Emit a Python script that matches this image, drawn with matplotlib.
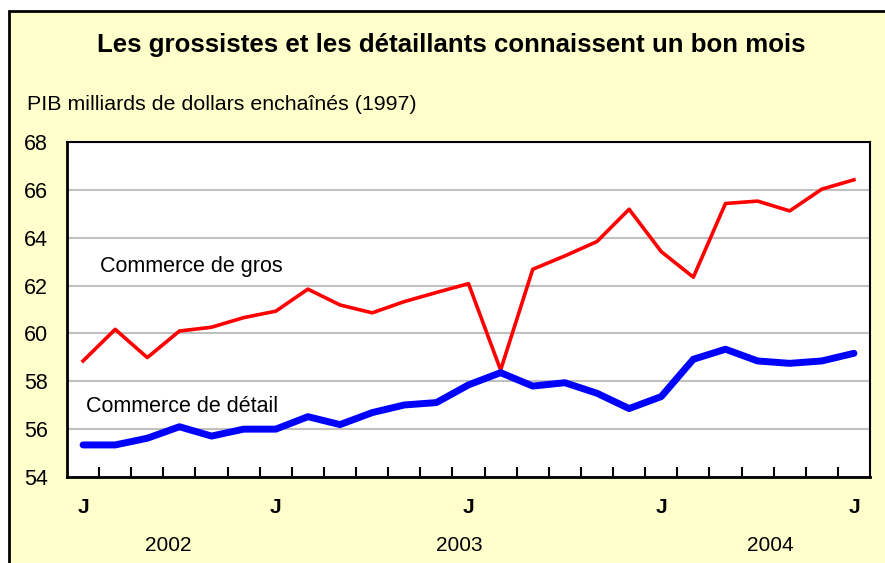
import matplotlib
matplotlib.use('Agg')
import matplotlib.pyplot as plt
from matplotlib.patches import Rectangle

plt.rcParams['font.family'] = ['Liberation Sans', 'DejaVu Sans']

# Monthly data, Jan 2002 - Jan 2004
months = list(range(25))
gros = [58.85, 60.17, 58.99, 60.10, 60.26, 60.66, 60.93, 61.85, 61.19, 60.86,
        61.33, 61.71, 62.08, 58.47, 62.68, 63.24, 63.84, 65.19, 63.42, 62.35,
        65.43, 65.53, 65.12, 66.03, 66.42]
detail = [55.34, 55.34, 55.62, 56.10, 55.71, 56.00, 56.00, 56.52, 56.19, 56.69,
          57.01, 57.11, 57.85, 58.36, 57.80, 57.94, 57.50, 56.86, 57.36, 58.92,
          59.34, 58.85, 58.75, 58.85, 59.17]
j_positions = [0, 6, 12, 18, 24]
years = ['2002', '2003', '2004']
year_positions = [2.65, 11.7, 21.4]

fig = plt.figure(figsize=(8.85, 5.63), dpi=100)
fig.patch.set_facecolor('white')

# Yellow frame around the chart
frame = Rectangle((9 / 885, -0.05), 1.0, (563 - 11) / 563 + 0.05,
                  transform=fig.transFigure, facecolor='#FFFFCC',
                  edgecolor='black', linewidth=2, zorder=-10)
fig.patches.append(frame)

ax = fig.add_axes([67 / 885, 86 / 563, 803 / 885, 335 / 563])
ax.set_facecolor('white')
ax.set_zorder(1)

ax.plot(months, gros, color='#FF0000', linewidth=2.6, zorder=3)
ax.plot(months, detail, color='#0000FF', linewidth=5,
        solid_capstyle='round', zorder=3)

ax.set_xlim(-0.5, 24.5)
ax.set_ylim(54, 68)
ax.set_yticks(range(54, 69, 2))
ax.yaxis.grid(True, color='#C0C0C0', linewidth=1.5)
ax.set_axisbelow(True)
ax.tick_params(axis='y', length=0, labelsize=15.5, pad=14)

ax.set_xticks([m + 0.5 for m in months[:-1]])
ax.set_xticklabels([])
ax.tick_params(axis='x', direction='in', length=7, width=1.5, color='black')

for side in ['left', 'bottom']:
    ax.spines[side].set_linewidth(2)
for side in ['top', 'right']:
    ax.spines[side].set_linewidth(1.5)

# Month and year labels
trans = ax.get_xaxis_transform()
for p in j_positions:
    ax.text(p, -0.09, 'J', transform=trans, ha='center', va='center',
            fontsize=15, fontweight='bold')
for y, p in zip(years, year_positions):
    ax.text(p, -0.205, y, transform=trans, ha='center', va='center', fontsize=15)

ax.text(0.53, 62.78, 'Commerce de gros', fontsize=15.5, va='center')
ax.text(0.09, 56.93, 'Commerce de détail', fontsize=15.5, va='center')

fig.text(451 / 885, 1 - 45 / 563,
         'Les grossistes et les détaillants connaissent un bon mois',
         ha='center', va='center', fontsize=18.6, fontweight='bold')
fig.text(27 / 885, 1 - 105 / 563, 'PIB milliards de dollars enchaînés (1997)',
         ha='left', va='center', fontsize=15.4)

fig.savefig('out.png', dpi=100, facecolor=fig.get_facecolor())
